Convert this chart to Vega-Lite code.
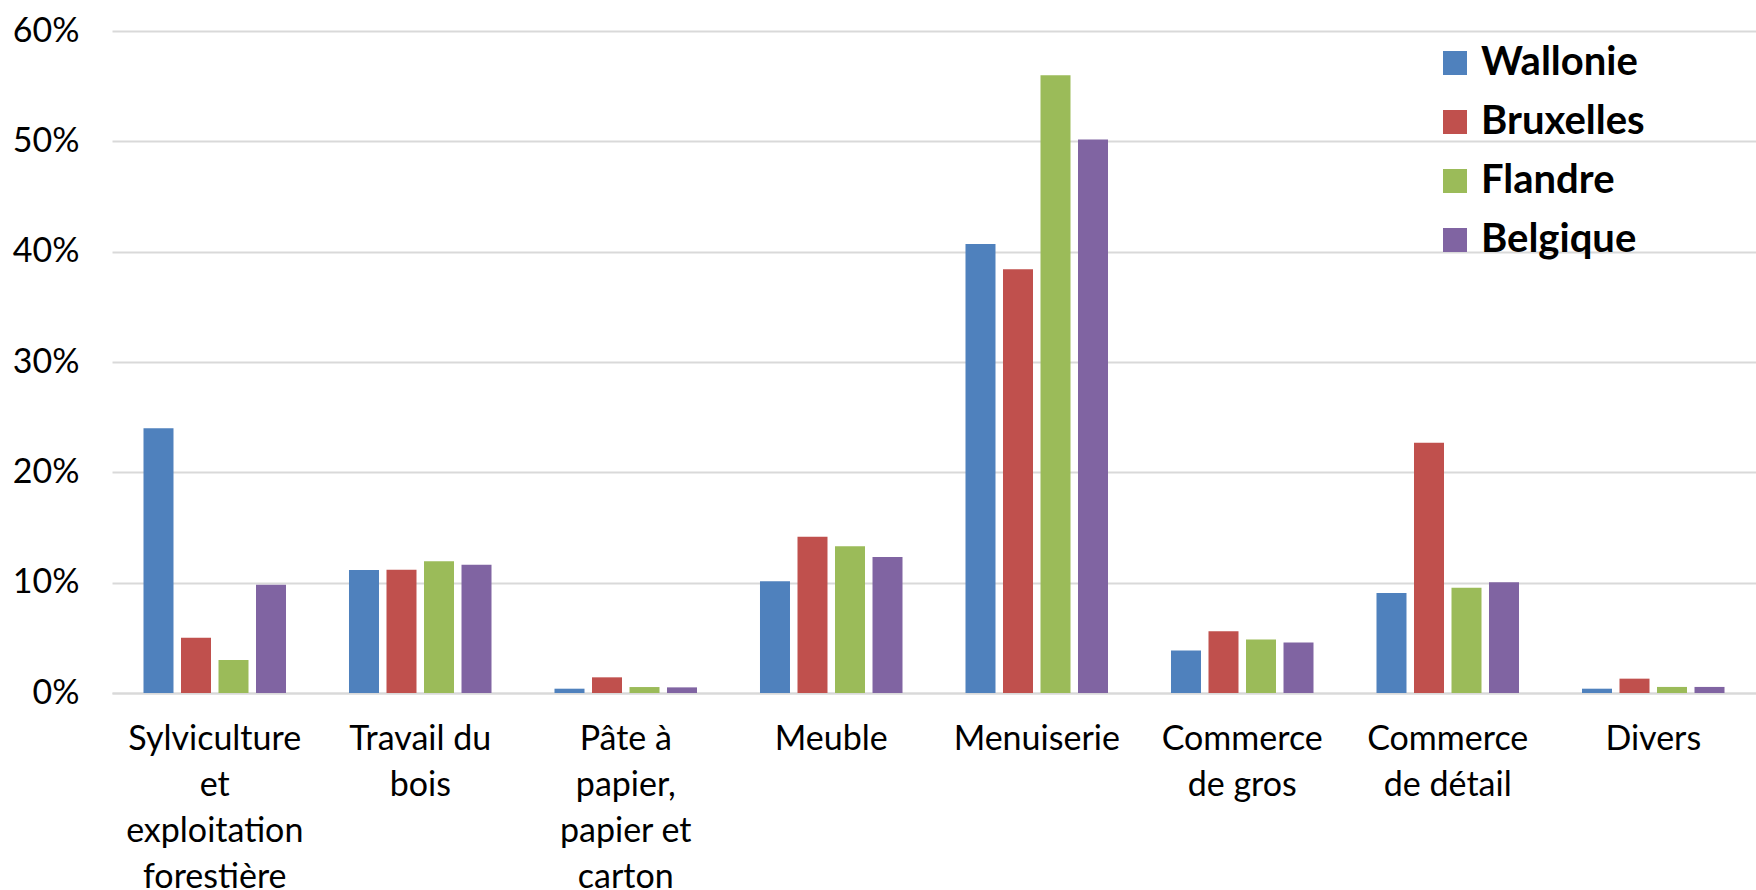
{
  "$schema": "https://vega.github.io/schema/vega-lite/v6.json",
  "autosize": {"type": "none"},
  "padding": {"left": 112, "top": 31, "right": 0, "bottom": 197},
  "width": 1644,
  "height": 662,
  "background": "white",
  "data": {"values": [
    {"secteur": "Sylviculture et exploitation forestière", "region": "Wallonie", "part": 0.240},
    {"secteur": "Sylviculture et exploitation forestière", "region": "Bruxelles", "part": 0.050},
    {"secteur": "Sylviculture et exploitation forestière", "region": "Flandre", "part": 0.030},
    {"secteur": "Sylviculture et exploitation forestière", "region": "Belgique", "part": 0.098},
    {"secteur": "Travail du bois", "region": "Wallonie", "part": 0.1115},
    {"secteur": "Travail du bois", "region": "Bruxelles", "part": 0.1118},
    {"secteur": "Travail du bois", "region": "Flandre", "part": 0.1193},
    {"secteur": "Travail du bois", "region": "Belgique", "part": 0.1163},
    {"secteur": "Pâte à papier, papier et carton", "region": "Wallonie", "part": 0.0039},
    {"secteur": "Pâte à papier, papier et carton", "region": "Bruxelles", "part": 0.0142},
    {"secteur": "Pâte à papier, papier et carton", "region": "Flandre", "part": 0.0054},
    {"secteur": "Pâte à papier, papier et carton", "region": "Belgique", "part": 0.0051},
    {"secteur": "Meuble", "region": "Wallonie", "part": 0.1012},
    {"secteur": "Meuble", "region": "Bruxelles", "part": 0.1417},
    {"secteur": "Meuble", "region": "Flandre", "part": 0.1329},
    {"secteur": "Meuble", "region": "Belgique", "part": 0.1233},
    {"secteur": "Menuiserie", "region": "Wallonie", "part": 0.407},
    {"secteur": "Menuiserie", "region": "Bruxelles", "part": 0.384},
    {"secteur": "Menuiserie", "region": "Flandre", "part": 0.560},
    {"secteur": "Menuiserie", "region": "Belgique", "part": 0.5016},
    {"secteur": "Commerce de gros", "region": "Wallonie", "part": 0.0386},
    {"secteur": "Commerce de gros", "region": "Bruxelles", "part": 0.0559},
    {"secteur": "Commerce de gros", "region": "Flandre", "part": 0.0484},
    {"secteur": "Commerce de gros", "region": "Belgique", "part": 0.0457},
    {"secteur": "Commerce de détail", "region": "Wallonie", "part": 0.0906},
    {"secteur": "Commerce de détail", "region": "Bruxelles", "part": 0.2268},
    {"secteur": "Commerce de détail", "region": "Flandre", "part": 0.0953},
    {"secteur": "Commerce de détail", "region": "Belgique", "part": 0.1004},
    {"secteur": "Divers", "region": "Wallonie", "part": 0.0039},
    {"secteur": "Divers", "region": "Bruxelles", "part": 0.013},
    {"secteur": "Divers", "region": "Flandre", "part": 0.0055},
    {"secteur": "Divers", "region": "Belgique", "part": 0.0055}
  ]},
  "mark": {"type": "bar"},
  "encoding": {
    "x": {
      "field": "secteur", "type": "nominal", "sort": null,
      "scale": {"paddingInner": 0.27, "paddingOuter": 0.135},
      "axis": {
        "title": null, "labelAngle": 0, "ticks": false,
        "domain": true, "domainColor": "#d9d9d9", "domainWidth": 2,
        "labelPadding": 29, "labelLineHeight": 46, "labelBaseline": "top",
        "labelFont": "Lato", "labelFontSize": 34, "labelColor": "#000000", "labelLimit": 0,
        "labelExpr": "datum.label == 'Sylviculture et exploitation forestière' ? ['Sylviculture','et','exploitation','forestière'] : datum.label == 'Travail du bois' ? ['Travail du','bois'] : datum.label == 'Pâte à papier, papier et carton' ? ['Pâte à','papier,','papier et','carton'] : datum.label == 'Commerce de gros' ? ['Commerce','de gros'] : datum.label == 'Commerce de détail' ? ['Commerce','de détail'] : datum.label"
      }
    },
    "xOffset": {
      "field": "region", "type": "nominal",
      "sort": ["Wallonie", "Bruxelles", "Flandre", "Belgique"],
      "scale": {"paddingInner": 0.2, "paddingOuter": 0.1}
    },
    "y": {
      "field": "part", "type": "quantitative",
      "scale": {"domain": [0, 0.6], "nice": false},
      "axis": {
        "title": null, "format": ".0%", "values": [0, 0.1, 0.2, 0.3, 0.4, 0.5, 0.6],
        "labelOverlap": false,
        "ticks": false, "domain": false,
        "grid": true, "gridColor": "#d9d9d9", "gridWidth": 2,
        "labelPadding": 33, "labelFont": "Lato", "labelFontSize": 34, "labelColor": "#000000"
      }
    },
    "color": {
      "field": "region", "type": "nominal",
      "sort": ["Wallonie", "Bruxelles", "Flandre", "Belgique"],
      "scale": {"domain": ["Wallonie", "Bruxelles", "Flandre", "Belgique"], "range": ["#4F81BD", "#C0504D", "#9BBB59", "#8064A2"]},
      "legend": {
        "title": null, "orient": "none", "legendX": 1323, "legendY": 12,
        "symbolType": "square", "symbolSize": 576, "symbolStrokeWidth": 0, "symbolOpacity": 1,
        "labelFont": "Lato", "labelFontSize": 40, "labelFontWeight": "bold", "labelColor": "#000000",
        "labelOffset": 6, "rowPadding": 19, "padding": 0, "labelLimit": 0
      }
    }
  },
  "config": {"view": {"stroke": null}}
}
